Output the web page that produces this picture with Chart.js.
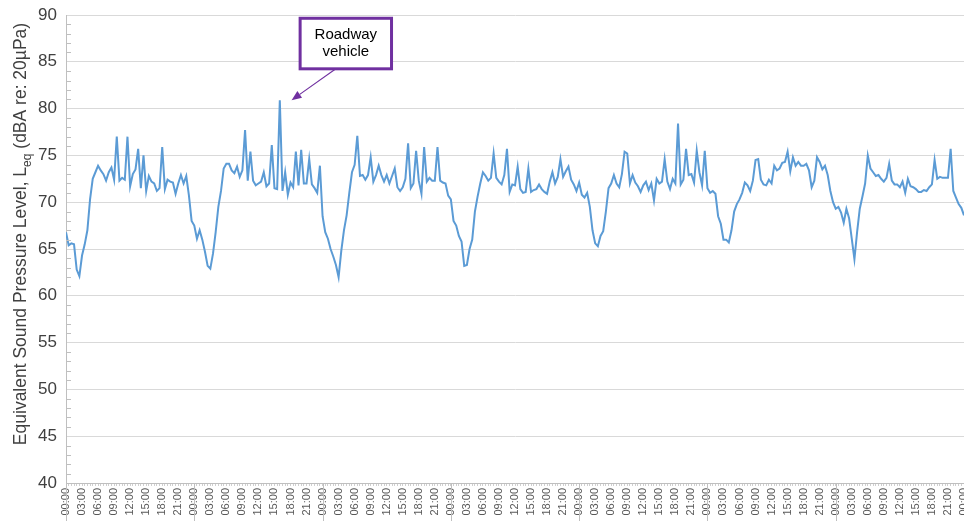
<!DOCTYPE html>
<html>
<head>
<meta charset="utf-8">
<script src="https://cdn.jsdelivr.net/npm/chart.js@4.4.1/dist/chart.umd.min.js"></script>
<style>
  html, body { margin: 0; padding: 0; background: #fff; }
  #wrap { width: 964px; height: 521px; position: relative; }
</style>
</head>
<body>
<div id="wrap"><canvas id="noiseChart"></canvas></div>
<script>
// 30-minute Leq readings, one array per day (00:00 to 23:30)
const day1 = [66.8, 65.4, 65.6, 65.5, 62.8, 62.1, 64.3, 65.5, 67.0, 70.3, 72.5, 73.2, 73.9, 73.4, 73.0, 72.3, 73.2, 73.7, 72.4, 77.0, 72.3, 72.6, 72.4, 77.0, 71.7, 73.0, 73.5, 75.7, 71.5, 75.0, 71.2, 72.8, 72.2, 72.0, 71.2, 71.5, 75.9, 71.4, 72.4, 72.2, 72.1, 70.9, 72.0, 72.9, 72.0, 72.8, 70.7, 68.0];
const day2 = [67.5, 66.1, 67.0, 66.0, 64.7, 63.2, 62.9, 64.5, 66.8, 69.5, 71.2, 73.6, 74.1, 74.1, 73.4, 73.1, 73.8, 72.7, 73.4, 77.7, 72.3, 75.4, 72.3, 71.8, 72.0, 72.2, 73.2, 71.7, 72.0, 76.1, 71.5, 71.4, 80.9, 71.2, 73.2, 70.8, 72.1, 71.6, 75.4, 71.8, 75.6, 72.0, 72.0, 74.6, 71.9, 71.5, 71.0, 73.9];
const day3 = [68.5, 66.8, 66.1, 65.0, 64.2, 63.3, 62.0, 64.8, 67.0, 68.6, 71.0, 73.2, 74.0, 77.1, 72.8, 72.9, 72.4, 72.9, 74.8, 72.2, 72.9, 73.9, 72.9, 72.2, 72.9, 72.0, 72.8, 73.6, 71.6, 71.2, 71.6, 72.5, 76.3, 71.5, 72.0, 75.5, 72.3, 70.9, 75.9, 72.2, 72.6, 72.3, 72.3, 75.9, 72.3, 72.1, 72.0, 70.7];
const day4 = [70.3, 68.0, 67.5, 66.4, 65.8, 63.2, 63.3, 65.0, 66.0, 69.0, 70.6, 72.0, 73.2, 72.8, 72.3, 72.6, 75.2, 72.6, 72.2, 71.9, 72.9, 75.7, 71.1, 71.9, 71.8, 73.8, 71.4, 71.0, 71.1, 73.6, 71.1, 71.3, 71.4, 71.9, 71.4, 71.1, 70.9, 72.2, 73.2, 72.0, 72.7, 74.6, 72.7, 73.3, 73.8, 72.4, 71.9, 71.2];
const day5 = [72.1, 70.8, 70.5, 71.0, 69.5, 67.0, 65.6, 65.3, 66.4, 66.9, 69.0, 71.5, 72.0, 72.9, 72.0, 71.6, 73.0, 75.4, 75.2, 72.0, 72.9, 72.1, 71.7, 71.1, 71.8, 72.2, 71.3, 72.0, 70.2, 72.5, 72.0, 72.2, 74.6, 72.2, 71.4, 72.5, 72.0, 78.4, 71.9, 72.4, 75.7, 72.9, 73.0, 72.1, 75.5, 73.2, 71.8, 75.5];
const day6 = [71.5, 71.0, 71.2, 70.9, 68.5, 67.7, 66.0, 66.0, 65.7, 67.0, 69.0, 69.8, 70.3, 71.0, 72.1, 71.8, 71.2, 72.3, 74.5, 74.6, 72.4, 71.9, 71.8, 72.4, 72.0, 73.9, 73.4, 73.6, 74.2, 74.3, 75.4, 73.3, 74.8, 73.9, 74.3, 73.9, 73.9, 74.1, 73.4, 71.6, 72.3, 74.8, 74.3, 73.5, 73.9, 72.9, 71.2, 70.0];
// last day also carries the closing 00:00 reading
const day7 = [69.3, 69.5, 68.9, 67.8, 69.3, 68.3, 66.1, 63.9, 66.8, 69.3, 70.6, 72.0, 75.0, 73.6, 73.2, 72.8, 72.9, 72.5, 72.2, 72.6, 74.1, 72.3, 71.9, 71.9, 71.6, 72.2, 71.0, 72.5, 71.7, 71.6, 71.4, 71.1, 71.1, 71.3, 71.2, 71.6, 71.9, 74.5, 72.5, 72.7, 72.6, 72.6, 72.6, 75.7, 71.2, 70.5, 69.8, 69.4, 68.6];

const stepHours = 0.5;
const labelEveryHours = 3;
const totalHours = 168;
const yMin = 40, yMax = 90, yStep = 5;

const noteText = ['Roadway', 'vehicle'];
// annotation placed in data units (hours, dBA)
const noteBox = { x0: 43.8, x1: 60.9, top: 89.65, bottom: 84.25 };
const noteArrow = { fromX: 50.95, fromY: 84.45, toX: 42.2, toY: 80.9 };

const axisGrey = '#bfbfbf';
const purple = '#7030a0';
const fontFamily = '"Liberation Sans", Arial, sans-serif';

function hourLabel(v) {
  const h = Math.round(v) % 24;
  return (h < 10 ? '0' + h : '' + h) + ':00';
}

const readings = [].concat(day1, day2, day3, day4, day5, day6, day7);
const points = readings.map((v, i) => ({ x: i * stepHours, y: v }));

// extra axis decorations: minor y ticks, long midnight ticks, y title, annotation
const decorations = {
  id: 'decorations',
  afterDraw(chart) {
    const ctx = chart.ctx;
    const area = chart.chartArea;
    const xs = chart.scales.x;
    const ys = chart.scales.y;

    ctx.save();
    ctx.strokeStyle = axisGrey;
    ctx.lineWidth = 1;
    for (let v = yMin + 1; v < yMax; v++) {
      if (v % yStep === 0) continue;
      const py = Math.round(ys.getPixelForValue(v)) + 0.5;
      ctx.beginPath();
      ctx.moveTo(area.left, py);
      ctx.lineTo(area.left + 5, py);
      ctx.stroke();
    }
    for (let h = 0; h <= totalHours; h += 24) {
      const px = Math.round(xs.getPixelForValue(h)) + 0.5;
      ctx.beginPath();
      ctx.moveTo(px, area.bottom);
      ctx.lineTo(px, chart.height);
      ctx.stroke();
    }

    // y axis title with subscript
    const main1 = 'Equivalent Sound Pressure Level, L';
    const sub = 'eq';
    const main2 = ' (dBA re: 20\u00B5Pa)';
    const bigFont = '17.5px ' + fontFamily;
    const smallFont = '12px ' + fontFamily;
    ctx.font = bigFont;
    const w1 = ctx.measureText(main1).width;
    const w3 = ctx.measureText(main2).width;
    ctx.font = smallFont;
    const w2 = ctx.measureText(sub).width;
    const total = w1 + w2 + w3;
    const cy = (area.top + area.bottom) / 2 - 15;
    ctx.translate(26, cy);
    ctx.rotate(-Math.PI / 2);
    ctx.fillStyle = '#404040';
    ctx.textBaseline = 'alphabetic';
    ctx.textAlign = 'left';
    let start = -total / 2;
    ctx.font = bigFont;
    ctx.fillText(main1, start, 0);
    ctx.font = smallFont;
    ctx.fillText(sub, start + w1, 4.5);
    ctx.font = bigFont;
    ctx.fillText(main2, start + w1 + w2, 0);
    ctx.restore();

    // annotation box and arrow
    ctx.save();
    const bx0 = xs.getPixelForValue(noteBox.x0);
    const bx1 = xs.getPixelForValue(noteBox.x1);
    const by0 = ys.getPixelForValue(noteBox.top);
    const by1 = ys.getPixelForValue(noteBox.bottom);
    const ax0 = xs.getPixelForValue(noteArrow.fromX);
    const ay0 = ys.getPixelForValue(noteArrow.fromY);
    const ax1 = xs.getPixelForValue(noteArrow.toX);
    const ay1 = ys.getPixelForValue(noteArrow.toY);

    ctx.strokeStyle = purple;
    ctx.fillStyle = purple;
    ctx.lineWidth = 1.2;
    const ang = Math.atan2(ay1 - ay0, ax1 - ax0);
    const headLen = 10, headW = 4;
    ctx.beginPath();
    ctx.moveTo(ax0, ay0);
    ctx.lineTo(ax1 - Math.cos(ang) * headLen, ay1 - Math.sin(ang) * headLen);
    ctx.stroke();
    ctx.beginPath();
    ctx.moveTo(ax1, ay1);
    ctx.lineTo(ax1 - Math.cos(ang) * headLen - Math.sin(ang) * headW, ay1 - Math.sin(ang) * headLen + Math.cos(ang) * headW);
    ctx.lineTo(ax1 - Math.cos(ang) * headLen + Math.sin(ang) * headW, ay1 - Math.sin(ang) * headLen - Math.cos(ang) * headW);
    ctx.closePath();
    ctx.fill();

    ctx.fillStyle = '#ffffff';
    ctx.fillRect(bx0, by0, bx1 - bx0, by1 - by0);
    ctx.lineWidth = 3;
    ctx.strokeRect(bx0, by0, bx1 - bx0, by1 - by0);
    ctx.fillStyle = '#000000';
    ctx.font = '15px ' + fontFamily;
    ctx.textAlign = 'center';
    ctx.textBaseline = 'middle';
    const midX = (bx0 + bx1) / 2;
    const midY = (by0 + by1) / 2;
    ctx.fillText(noteText[0], midX, midY - 8.5);
    ctx.fillText(noteText[1], midX, midY + 8.5);
    ctx.restore();
  }
};

new Chart(document.getElementById('noiseChart'), {
  type: 'line',
  data: {
    datasets: [{
      label: 'Leq',
      data: points,
      borderColor: '#5b9bd5',
      borderWidth: 2,
      pointRadius: 0,
      tension: 0,
      fill: false
    }]
  },
  options: {
    responsive: true,
    maintainAspectRatio: false,
    animation: false,
    layout: { padding: { top: 15, left: 0, right: 0, bottom: 0 } },
    plugins: {
      legend: { display: false },
      tooltip: { enabled: false }
    },
    scales: {
      x: {
        type: 'linear',
        min: 0,
        max: totalHours,
        border: { color: axisGrey },
        grid: { drawOnChartArea: false, tickLength: 3, color: '#cfcfcf' },
        ticks: {
          stepSize: stepHours,
          autoSkip: false,
          minRotation: 90,
          maxRotation: 90,
          padding: 2,
          color: '#595959',
          font: { size: 11, family: fontFamily },
          callback: function(v) {
            return v % labelEveryHours === 0 ? hourLabel(v) : '';
          }
        },
        afterFit: function(scale) {
          scale.height = 38;
          scale.paddingLeft = 0;
          scale.paddingRight = 0;
        }
      },
      y: {
        min: yMin,
        max: yMax,
        border: { color: axisGrey },
        grid: { color: '#d9d9d9', drawTicks: false },
        ticks: {
          stepSize: yStep,
          padding: 9,
          color: '#404040',
          font: { size: 17, family: fontFamily }
        },
        afterFit: function(scale) {
          scale.width = 66;
          scale.paddingTop = 0;
          scale.paddingBottom = 0;
        }
      }
    }
  },
  plugins: [decorations]
});
</script>
</body>
</html>
